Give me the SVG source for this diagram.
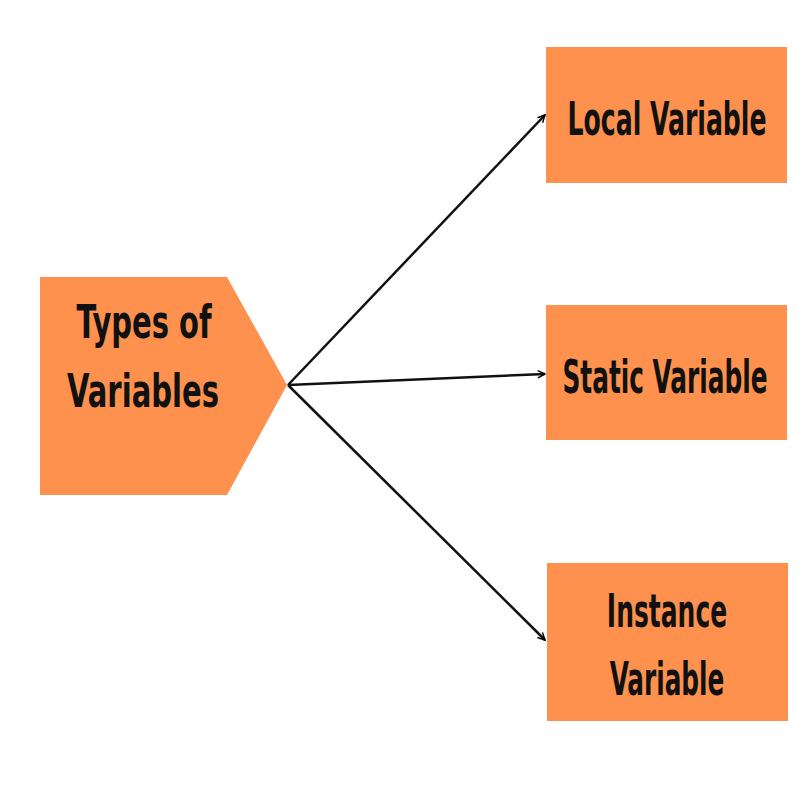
<svg xmlns="http://www.w3.org/2000/svg" width="807" height="787" viewBox="0 0 807 787">
  <defs>
    <marker id="arr" viewBox="0 0 10 10" refX="9" refY="5" markerWidth="9" markerHeight="9" markerUnits="userSpaceOnUse" orient="auto">
      <path d="M1,1 L9,5 L1,9" fill="none" stroke="#000" stroke-width="1.6"/>
    </marker>
    <style>
      .box { fill: #FE914D; }
      .lbl { font-family: "DejaVu Sans Condensed", "DejaVu Sans", sans-serif; font-weight: bold; font-size: 46px; fill: #111; text-anchor: middle; }
      .conn { stroke: #111; stroke-width: 2.5; fill: none; marker-end: url(#arr); }
    </style>
  </defs>
  <rect width="807" height="787" fill="#fff"/>
  <g id="connectors">
    <line class="conn" x1="288" y1="385" x2="545" y2="115"/>
    <line class="conn" x1="288" y1="385" x2="545" y2="374"/>
    <line class="conn" x1="288" y1="385" x2="545" y2="640"/>
  </g>
  <g id="types">
    <polygon class="box" points="40,277 227,277 287,385 227,495 40,495"/>
    <text class="lbl" transform="translate(144,338) scale(0.62,1)" textLength="218" lengthAdjust="spacingAndGlyphs">Types of</text>
    <text class="lbl" transform="translate(143,407) scale(0.62,1)" textLength="245" lengthAdjust="spacingAndGlyphs">Variables</text>
  </g>
  <g id="local">
    <rect class="box" x="546" y="47" width="241" height="136"/>
    <text class="lbl" transform="translate(667,135) scale(0.62,1)" textLength="321" lengthAdjust="spacingAndGlyphs">Local Variable</text>
  </g>
  <g id="static">
    <rect class="box" x="546" y="305" width="241" height="135"/>
    <text class="lbl" transform="translate(665,393) scale(0.62,1)" textLength="331" lengthAdjust="spacingAndGlyphs">Static Variable</text>
  </g>
  <g id="instance">
    <rect class="box" x="547" y="563" width="241" height="158"/>
    <text class="lbl" transform="translate(667,627) scale(0.62,1)" font-size="50" textLength="194" lengthAdjust="spacingAndGlyphs">Instance</text>
    <text class="lbl" transform="translate(667,695) scale(0.62,1)" font-size="48" textLength="185" lengthAdjust="spacingAndGlyphs">Variable</text>
  </g>
</svg>
